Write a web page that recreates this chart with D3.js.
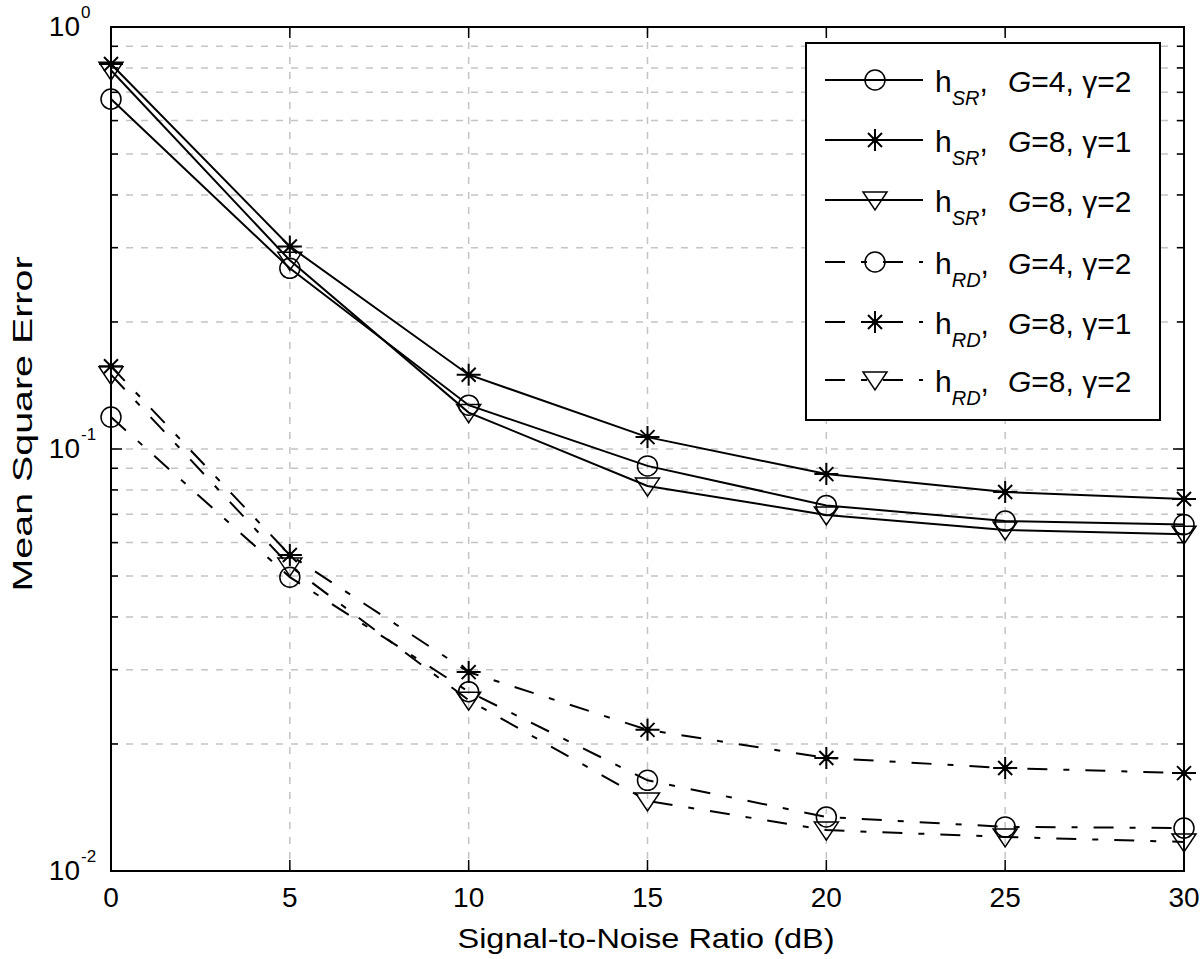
<!DOCTYPE html>
<html><head><meta charset="utf-8">
<script src="https://cdn.jsdelivr.net/npm/d3@7"></script>
<style>body{margin:0;background:#fff}</style>
</head><body>
<svg id="c" width="1200" height="959"></svg>
<script>
const snr = [0, 5, 10, 15, 20, 25, 30];
const srG4g2 = [0.675, 0.268, 0.127, 0.0912, 0.0735, 0.0675, 0.0662];
const srG8g1 = [0.817, 0.302, 0.150, 0.1067, 0.0872, 0.0791, 0.0761];
const srG8g2 = [0.79, 0.280, 0.122, 0.0817, 0.0698, 0.0643, 0.0628];
const rdG4g2 = [0.119, 0.0497, 0.0266, 0.0164, 0.01343, 0.01272, 0.01264];
const rdG8g1 = [0.157, 0.0561, 0.0296, 0.0216, 0.01853, 0.01754, 0.01706];
const rdG8g2 = [0.150, 0.0528, 0.0254, 0.01466, 0.0125, 0.01204, 0.01172];
const xTicks = [0, 5, 10, 15, 20, 25, 30];
const yDecades = [1, 0.1, 0.01];
const yDecadeExp = ["0", "-1", "-2"];
const seriesNames = ["SR", "SR", "SR", "RD", "RD", "RD"];
const seriesG = ["4", "8", "8", "4", "8", "8"];
const seriesGamma = ["2", "1", "2", "2", "1", "2"];

const series = [
  {v: srG4g2, m: "circle", dash: null},
  {v: srG8g1, m: "star", dash: null},
  {v: srG8g2, m: "tri", dash: null},
  {v: rdG4g2, m: "circle", dash: "20,16,6,16"},
  {v: rdG8g1, m: "star", dash: "20,16,6,16"},
  {v: rdG8g2, m: "tri", dash: "20,16,6,16"}
];

const L = 111, R = 1184, T = 27, B = 871;
const svg = d3.select("#c");
const x = d3.scaleLinear().domain([0, 30]).range([L, R]);
const y = d3.scaleLog().domain([0.01, 1]).range([B, T]);
const font = "'Liberation Sans', Arial, sans-serif";

// grid values
const minorVals = [];
[0.01, 0.1].forEach(d => { for (let k = 2; k <= 9; k++) minorVals.push(d * k); });
const gridY = minorVals.concat([0.1]);

const grid = svg.append("g");
grid.selectAll("line.gx").data(xTicks.filter(t => t > 0 && t < 30)).enter().append("line")
  .attr("x1", d => x(d)).attr("x2", d => x(d)).attr("y1", T).attr("y2", B)
  .attr("stroke", "#c4c4c4").attr("stroke-width", 1.5).attr("stroke-dasharray", "7,8");
grid.selectAll("line.gy").data(gridY).enter().append("line")
  .attr("x1", L).attr("x2", R).attr("y1", d => y(d)).attr("y2", d => y(d))
  .attr("stroke", "#c4c4c4").attr("stroke-width", 1.5).attr("stroke-dasharray", "7,8");

// ticks
const tk = svg.append("g").attr("stroke", "#000").attr("stroke-width", 1.5);
xTicks.forEach(t => {
  tk.append("line").attr("x1", x(t)).attr("x2", x(t)).attr("y1", B).attr("y2", B - 11);
  tk.append("line").attr("x1", x(t)).attr("x2", x(t)).attr("y1", T).attr("y2", T + 11);
});
minorVals.forEach(v => {
  tk.append("line").attr("x1", L).attr("x2", L + 7).attr("y1", y(v)).attr("y2", y(v));
  tk.append("line").attr("x1", R).attr("x2", R - 7).attr("y1", y(v)).attr("y2", y(v));
});
[0.1].forEach(v => {
  tk.append("line").attr("x1", L).attr("x2", L + 11).attr("y1", y(v)).attr("y2", y(v));
  tk.append("line").attr("x1", R).attr("x2", R - 11).attr("y1", y(v)).attr("y2", y(v));
});

// data lines
const line = d3.line().x((d, i) => x(snr[i])).y(d => y(d));
const plot = svg.append("g");
function marker(g, type, cx, cy) {
  if (type === "circle") {
    g.append("circle").attr("cx", cx).attr("cy", cy).attr("r", 10)
      .attr("fill", "none").attr("stroke", "#000").attr("stroke-width", 1.5);
  } else if (type === "star") {
    const s = 10, d = 7;
    const p = `M${cx - s - 2},${cy}H${cx + s + 2}M${cx},${cy - s - 1}V${cy + s + 1}` +
      `M${cx - d},${cy - d}L${cx + d},${cy + d}M${cx - d},${cy + d}L${cx + d},${cy - d}`;
    g.append("path").attr("d", p).attr("fill", "none").attr("stroke", "#000").attr("stroke-width", 2);
    g.append("circle").attr("cx", cx).attr("cy", cy).attr("r", 3).attr("fill", "#000");
  } else {
    const p = `M${cx - 12},${cy - 8}H${cx + 12}L${cx},${cy + 10}Z`;
    g.append("path").attr("d", p).attr("fill", "none").attr("stroke", "#000").attr("stroke-width", 1.5);
  }
}
series.forEach(s => {
  plot.append("path").datum(s.v).attr("d", line).attr("fill", "none")
    .attr("stroke", "#000").attr("stroke-width", 2)
    .attr("stroke-dasharray", s.dash);
  s.v.forEach((v, i) => marker(plot, s.m, x(snr[i]), y(v)));
});

// axes box
svg.append("rect").attr("x", L).attr("y", T).attr("width", R - L).attr("height", B - T)
  .attr("fill", "none").attr("stroke", "#000").attr("stroke-width", 2);

// tick labels
svg.selectAll("text.xt").data(xTicks).enter().append("text")
  .attr("x", d => x(d)).attr("y", 907).attr("text-anchor", "middle")
  .attr("font-family", font).attr("font-size", 28).text(d => d);
yDecades.forEach((v, i) => {
  const t = svg.append("text").attr("x", 80).attr("y", y(v) + 9).attr("text-anchor", "end")
    .attr("font-family", font).attr("font-size", 28).text("10");
  svg.append("text").attr("x", 81).attr("y", y(v) - 9)
    .attr("font-family", font).attr("font-size", 17).text(yDecadeExp[i]);
});

// axis labels
svg.append("text").attr("x", 646).attr("y", 948).attr("text-anchor", "middle")
  .attr("font-family", font).attr("font-size", 28)
  .attr("textLength", 377).attr("lengthAdjust", "spacingAndGlyphs")
  .text("Signal-to-Noise Ratio (dB)");
svg.append("text").attr("transform", "translate(32,424) rotate(-90)").attr("text-anchor", "middle")
  .attr("font-family", font).attr("font-size", 28)
  .attr("textLength", 335).attr("lengthAdjust", "spacingAndGlyphs")
  .text("Mean Square Error");

// legend
const lg = svg.append("g");
lg.append("rect").attr("x", 806).attr("y", 43).attr("width", 354).attr("height", 377)
  .attr("fill", "#fff").attr("stroke", "#000").attr("stroke-width", 2);
const ly = [80, 140, 200, 262, 322, 380];
series.forEach((s, i) => {
  lg.append("line").attr("x1", 825).attr("x2", 923).attr("y1", ly[i]).attr("y2", ly[i])
    .attr("stroke", "#000").attr("stroke-width", 2).attr("stroke-dasharray", s.dash);
  marker(lg, s.m, 875, ly[i]);
  const t = lg.append("text").attr("x", 935).attr("y", ly[i] + 12)
    .attr("font-family", font).attr("font-size", 30);
  t.append("tspan").text("h");
  t.append("tspan").attr("dy", 13).attr("font-size", 20).attr("font-style", "italic").text(seriesNames[i]);
  t.append("tspan").attr("dy", -13).text(",");
  t.append("tspan").attr("x", 1008).attr("font-style", "italic").text("G");
  t.append("tspan").text("=" + seriesG[i] + ", γ=" + seriesGamma[i]);
});
</script>
</body></html>
